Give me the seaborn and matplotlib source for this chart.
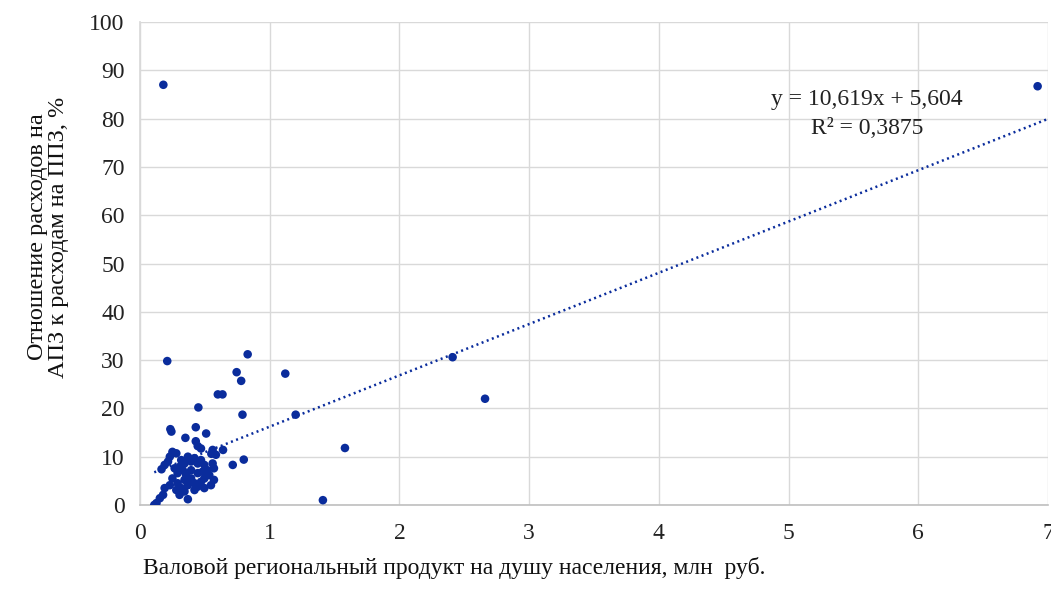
import numpy as np
import pandas as pd
import seaborn as sns
import matplotlib.pyplot as plt

# GRP per capita (mln rub.) and ratio of expenses, %
grp = [0.18, 6.92, 0.21, 0.83, 0.745, 0.78, 1.12, 0.60, 0.636, 0.45,
       0.79, 1.20, 2.41, 2.66, 0.234, 0.242, 0.43, 0.51, 0.35, 0.43,
       0.445, 0.47, 0.56, 0.55, 0.585, 0.64, 0.80, 0.715, 1.58, 1.41,
       0.11, 0.25, 0.28, 0.23, 0.216, 0.19, 0.166, 0.318, 0.343, 0.369,
       0.394, 0.42, 0.445, 0.47, 0.496, 0.52, 0.56, 0.57, 0.534, 0.496,
       0.47, 0.42, 0.394, 0.356, 0.33, 0.29, 0.267, 0.25, 0.29, 0.318,
       0.343, 0.305, 0.28, 0.23, 0.19, 0.178, 0.153, 0.127, 0.369, 0.42,
       0.445, 0.496, 0.547, 0.57, 0.369, 0.394, 0.343, 0.445, 0.483, 0.31]
ratio = [87.0, 86.7, 29.8, 31.2, 27.5, 25.7, 27.2, 22.9, 22.9, 20.2,
         18.7, 18.7, 30.6, 22.0, 15.7, 15.2, 16.1, 14.8, 13.9, 13.2,
         12.2, 11.7, 11.4, 10.6, 10.4, 11.4, 9.4, 8.3, 11.8, 1.0,
         0.0, 11.0, 10.7, 10.0, 9.0, 8.3, 7.4, 9.3, 8.6, 10.0,
         9.0, 9.7, 8.6, 9.3, 8.3, 7.2, 8.6, 7.6, 6.2, 5.5,
         4.8, 4.5, 5.5, 6.2, 7.2, 6.6, 7.6, 5.5, 4.5, 3.5,
         2.8, 2.1, 3.1, 4.1, 3.5, 2.1, 1.4, 0.4, 1.2, 3.1,
         3.8, 3.5, 4.1, 5.2, 4.1, 7.2, 5.2, 6.6, 6.9, 8.0]

# linear trend printed on the chart
slope = 10.619
intercept = 5.604
eq_text = "y = 10,619x + 5,604"
r2_text = "R² = 0,3875"

x_ticks = [0, 1, 2, 3, 4, 5, 6, 7]
y_ticks = [0, 10, 20, 30, 40, 50, 60, 70, 80, 90, 100]

color = "#0a2c9c"

sns.set_theme(style="whitegrid")
plt.rcParams['font.family'] = ['Liberation Serif', 'DejaVu Serif']

df = pd.DataFrame({"grp": grp, "ratio": ratio})

W, H = 1051, 598
fig = plt.figure(figsize=(W / 100, H / 100), dpi=100)
ax = fig.add_axes([140 / W, 93 / H, 908 / W, 483 / H])

sns.scatterplot(data=df, x="grp", y="ratio", ax=ax, color=color, s=38,
                edgecolor="none", zorder=3)

trend = pd.DataFrame({"x": [min(grp), 7]})
trend["y"] = slope * trend["x"] + intercept
sns.lineplot(data=trend, x="x", y="y", ax=ax, color=color, lw=1.8,
             linestyle=(0, (0.8, 1.4)), zorder=2)

ax.set_xlim(0, 7)
ax.set_ylim(0, 100)
ax.set_xticks(x_ticks)
ax.set_yticks(y_ticks)
ax.set_xlabel("")
ax.set_ylabel("")
ax.tick_params(axis="both", labelsize=17, colors="#222222", length=0)
ax.tick_params(axis="y", pad=11)
ax.tick_params(axis="x", pad=13)
ax.grid(True, color="#d9d9d9", lw=1)
for side in ["top", "right"]:
    ax.spines[side].set_visible(False)
ax.spines["left"].set_color("#d9d9d9")
ax.spines["bottom"].set_color("#bfbfbf")
ax.spines["bottom"].set_linewidth(1.2)

fig.text(867 / W, 1 - 100 / H, eq_text, ha="center", va="center",
         fontsize=17, color="#222222")
fig.text(867 / W, 1 - 128 / H, r2_text, ha="center", va="center",
         fontsize=17, color="#222222")

fig.text(454 / W, 1 - 568 / H,
         "Валовой региональный продукт на душу населения, млн  руб.",
         ha="center", va="center", fontsize=17, color="#111111")
fig.text(48 / W, 1 - 237 / H,
         "Отношение расходов на\nАПЗ к расходам на ППЗ, %",
         ha="center", va="center", rotation=90, fontsize=17.5,
         color="#111111", linespacing=1.05)

fig.savefig("out.png", dpi=100)
